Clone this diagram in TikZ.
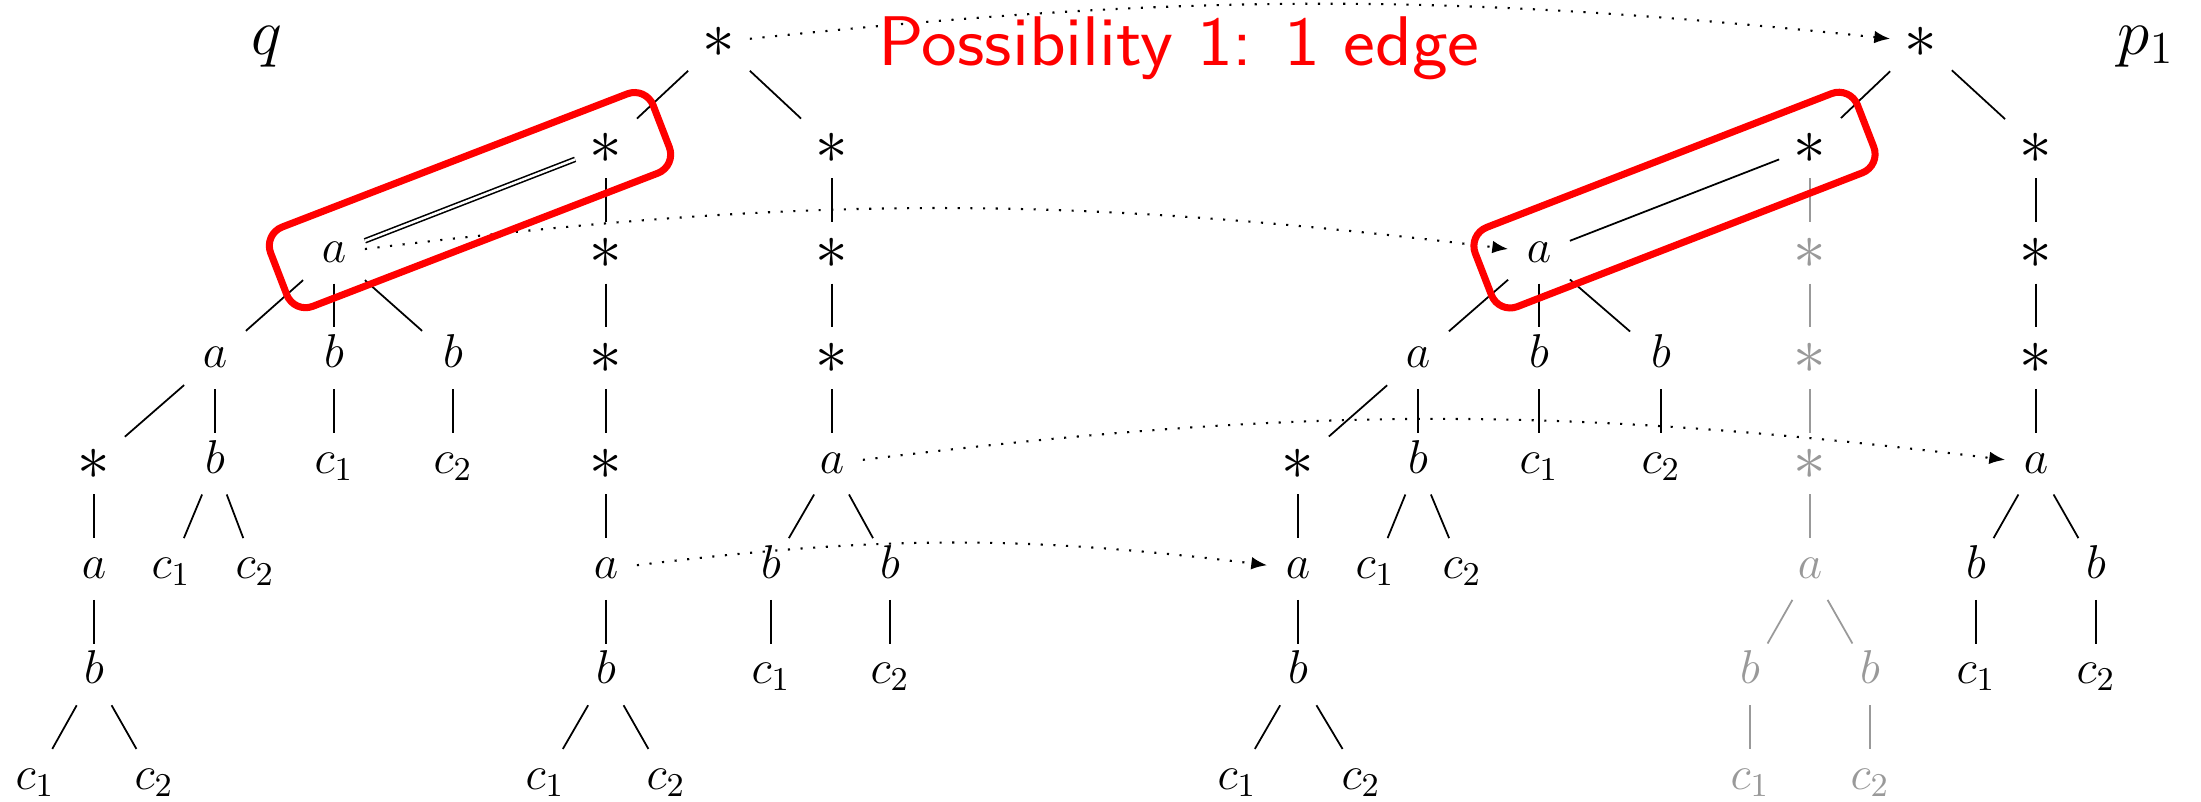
\RequirePackage{fix-cm}
\documentclass[tikz,border=0pt]{standalone}
\usetikzlibrary{arrows.meta,calc}
\newcommand{\st}{\raisebox{-1.8pt}{\fontsize{18.5}{20}\selectfont$*$}}

\begin{document}
\begin{tikzpicture}[line width=0.5pt,
    tnode/.style={minimum size=0.6cm, inner sep=0pt, text height=1.5ex, text depth=.25ex, font=\fontsize{13.5}{16}\selectfont},
    faded/.style={color=black!40},
    match/.style={line width=0.6pt, dash pattern=on 0.6pt off 3pt, -{Latex[length=4.5pt,width=3.6pt]}},
    hit/.style={draw=red, line width=2pt, rounded corners=0.2cm, minimum width=4.1cm, minimum height=0.85cm, inner sep=0pt}]
  \useasboundingbox (0,0) rectangle (22.01,-8.02);
  % tree labels
  \node[anchor=base, font=\fontsize{18.6}{22}\selectfont] (qlab) at (2.67,-0.54) {$q$};
  \node[anchor=base, font=\fontsize{18.6}{22}\selectfont] (plab) at (21.46,-0.54) {$p_1$};
  % q: the a-subtree hanging off the left star
  \foreach \nm/\xx/\rw/\lb in {la/3.34/2/a, la1/2.15/3/a, lb1/3.34/3/b, lb2/4.53/3/b,
      ls/0.94/4/\st, lb3/2.15/4/b, lc5/3.34/4/c_1, lc6/4.53/4/c_2,
      la2/0.94/5/a, lc3/1.71/5/c_1, lc4/2.55/5/c_2,
      lb4/0.94/6/b, lc1/0.35/7/c_1, lc2/1.54/7/c_2}
    \node[tnode] (\nm) at (\xx,{-0.42-1.054*\rw}) {$\lb$};
  % q: star spine
  \foreach \nm/\xx/\rw/\lb in {mr/7.19/0/\st, ms1/6.06/1/\st, mt1/8.32/1/\st, ms2/6.06/2/\st, mt2/8.32/2/\st,
      ms3/6.06/3/\st, mt3/8.32/3/\st, ms4/6.06/4/\st, ma2/8.32/4/a,
      ma/6.06/5/a, mb1/7.71/5/b, mb2/8.90/5/b, mb/6.06/6/b, mc3/7.71/6/c_1, mc4/8.90/6/c_2,
      mc1/5.45/7/c_1, mc2/6.66/7/c_2}
    \node[tnode] (\nm) at (\xx,{-0.42-1.054*\rw}) {$\lb$};
  % p_1
  \foreach \nm/\xx/\rw/\lb in {pr/19.21/0/\st, ps1/18.10/1/\st, pt1/20.36/1/\st, pa/15.39/2/a, pt2/20.36/2/\st,
      pa1/14.18/3/a, pb1/15.39/3/b, pb2/16.61/3/b, pt3/20.36/3/\st,
      ps/12.98/4/\st, pb3/14.18/4/b, pc5/15.39/4/c_1, pc6/16.61/4/c_2, pa3/20.36/4/a,
      pa2/12.98/5/a, pc3/13.75/5/c_1, pc4/14.62/5/c_2, pb5/19.76/5/b, pb6/20.96/5/b,
      pb4/12.98/6/b, pc7/19.76/6/c_1, pc8/20.96/6/c_2, pc1/12.37/7/c_1, pc2/13.61/7/c_2}
    \node[tnode] (\nm) at (\xx,{-0.42-1.054*\rw}) {$\lb$};
  % p_1: unused branch in grey
  \foreach \nm/\xx/\rw/\lb in {g1/18.10/2/\st, g2/18.10/3/\st, g3/18.10/4/\st, ga/18.10/5/a,
      gb1/17.50/6/b, gb2/18.70/6/b, gc1/17.50/7/c_1, gc2/18.70/7/c_2}
    \node[tnode, faded] (\nm) at (\xx,{-0.42-1.054*\rw}) {$\lb$};
  % edges
  \foreach \u/\v in {la/la1, la/lb1, la/lb2, la1/ls, la1/lb3, ls/la2, la2/lb4, lb4/lc1, lb4/lc2,
      lb3/lc3, lb3/lc4, lb1/lc5, lb2/lc6,
      mr/ms1, mr/mt1, ms1/ms2, ms2/ms3, ms3/ms4, ms4/ma, ma/mb, mb/mc1, mb/mc2,
      mt1/mt2, mt2/mt3, mt3/ma2, ma2/mb1, ma2/mb2, mb1/mc3, mb2/mc4,
      pr/ps1, pr/pt1, ps1/pa, pa/pa1, pa/pb1, pa/pb2, pa1/ps, pa1/pb3, ps/pa2, pa2/pb4,
      pb4/pc1, pb4/pc2, pb3/pc3, pb3/pc4, pb1/pc5, pb2/pc6,
      pt1/pt2, pt2/pt3, pt3/pa3, pa3/pb5, pa3/pb6, pb5/pc7, pb6/pc8}
    \draw (\u) -- (\v);
  \foreach \u/\v in {ps1/g1, g1/g2, g2/g3, g3/ga, ga/gb1, ga/gb2, gb1/gc1, gb2/gc2}
    \draw[faded] (\u) -- (\v);
  \draw[double, double distance=0.7pt, line width=0.45pt] (la) -- (ms1);
  % matching
  \draw[match] (mr) to[bend left=6] (pr);
  \draw[match] (la) to[bend left=7] (pa);
  \draw[match] (ma2) to[bend left=7] (pa3);
  \draw[match] (ma) to[bend left=7] (pa2);
  % highlighted edge
  \node[hit, rotate=21.1] (boxq) at ($(la)!0.5!(ms1)$) {};
  \node[hit, rotate=21.2] (boxp) at ($(pa)!0.5!(ps1)$) {};
  \node[anchor=base, red, font=\sffamily\fontsize{20}{24}\selectfont] (note) at (11.79,-0.65) {\scalebox{1.08}[1]{Possibility 1: 1 edge}};
\end{tikzpicture}
\end{document}
